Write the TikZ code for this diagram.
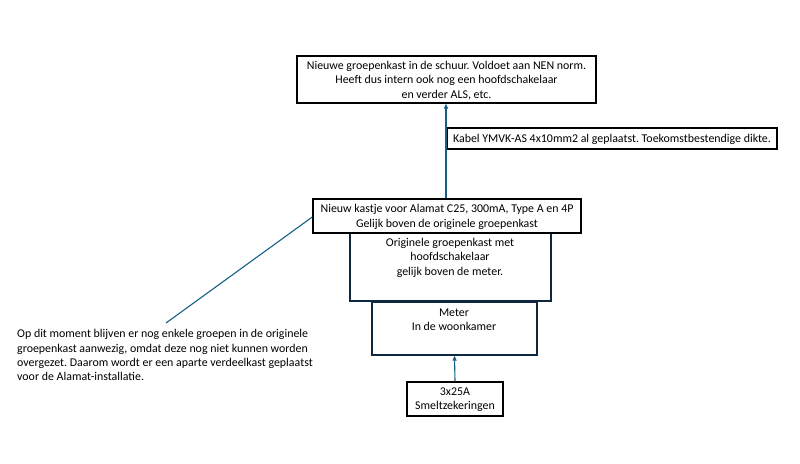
\documentclass[tikz,border=0pt]{standalone}
\usepackage{fontspec}
\setmainfont{Carlito}
\usetikzlibrary{arrows.meta}
\definecolor{conn}{HTML}{156082}
\definecolor{darkbox}{HTML}{0E2841}
\frenchspacing
\tikzset{
  x=1pt,y=-1pt,
  txt/.style={font=\fontsize{11.9}{14.3}\selectfont, align=center, inner sep=0pt},
  bx/.style={draw=black, line width=1.4pt, fill=white, inner sep=0pt},
  dbx/.style={draw=darkbox, line width=1.4pt, fill=white, inner sep=0pt},
  conline/.style={draw=conn, line width=1.1pt},
  arr/.style={conline, -{Triangle[length=5pt,width=4pt]}}
}
\begin{document}
\begin{tikzpicture}
\useasboundingbox (0,0) rectangle (800,463);
% top box
\node[bx, minimum width=299, minimum height=47] (top) at (446.5,79.5) {};
\node[txt] (toptxt) at (446.5,80.5) {Nieuwe groepenkast in de schuur. Voldoet aan NEN norm.\\Heeft dus intern ook nog een hoofdschakelaar\\en verder ALS, etc.};
% kabel box
\node[bx, line width=1.1pt, minimum width=330, minimum height=21] (kabel) at (612,138.5) {};
\node[txt] (kabeltxt) at (612,139.5) {Kabel YMVK-AS 4x10mm2 al geplaatst. Toekomstbestendige dikte.};
% originele box
\node[dbx, minimum width=201, minimum height=68] (orig) at (450.5,267) {};
\node[txt, anchor=north] (origtxt) at (450,238) {Originele groepenkast met\\hoofdschakelaar\\gelijk boven de meter.};
% meter box
\node[dbx, minimum width=165, minimum height=53] (meter) at (454.5,328.5) {};
\node[txt, anchor=north] (metertxt) at (454,308.5) {Meter\\In de woonkamer};
% alamat box
\node[bx, minimum width=268, minimum height=34] (alamat) at (447,216) {};
\node[txt] (alamattxt) at (447,217) {Nieuw kastje voor Alamat C25, 300mA, Type A en 4P\\Gelijk boven de originele groepenkast};
% smelt box
\node[bx, minimum width=96, minimum height=34] (smelt) at (455,399) {};
\node[txt] (smelttxt) at (455,399.5) {3x25A\\Smeltzekeringen};
% paragraph
\node[txt, align=left, anchor=north west] (para) at (17,329.5) {Op dit moment blijven er nog enkele groepen in de originele\\groepenkast aanwezig, omdat deze nog niet kunnen worden\\overgezet. Daarom wordt er een aparte verdeelkast geplaatst\\voor de Alamat-installatie.};
\coordinate (lineend) at (166,323);
% connectors
\draw[arr] (alamat.north -| 446,0) -- (top.south -| 446,0);
\draw[arr] (smelt.north) -- (meter.south);
\draw[conline] (alamat.west |- 0,217) -- (lineend);
\end{tikzpicture}
\end{document}
